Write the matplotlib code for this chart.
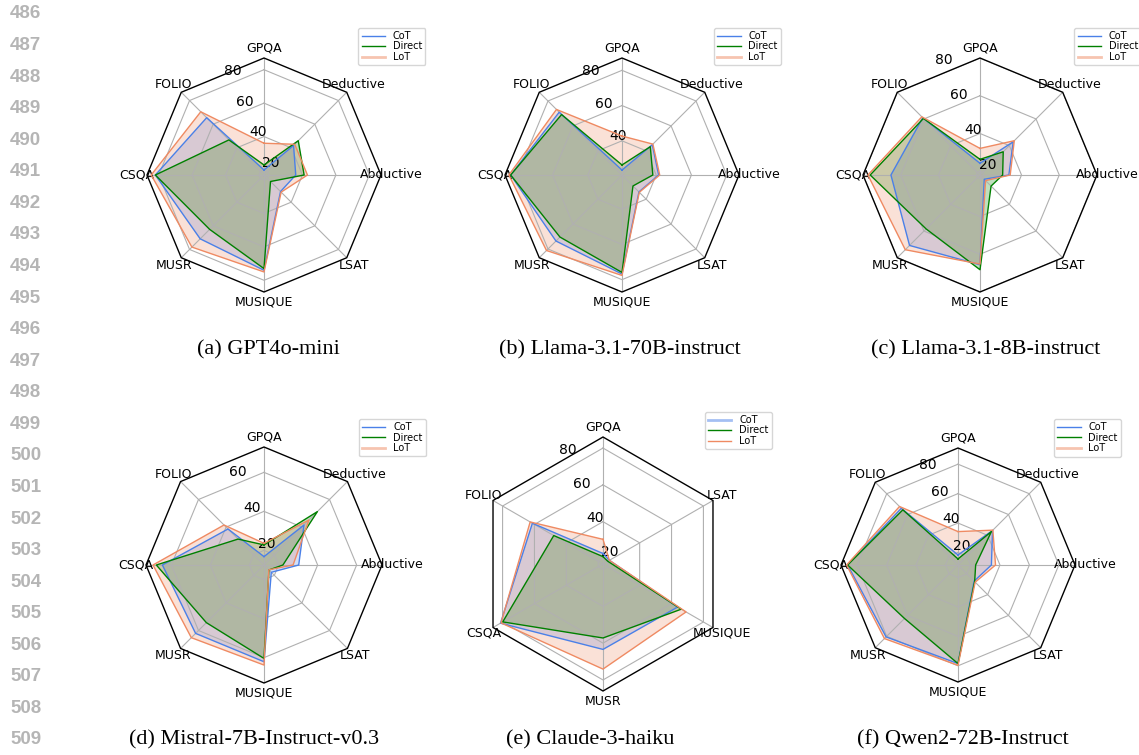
import numpy as np
import matplotlib
matplotlib.use("Agg")
import matplotlib.pyplot as plt
from matplotlib.patches import RegularPolygon
from matplotlib.path import Path
from matplotlib.projections.polar import PolarAxes
from matplotlib.projections import register_projection
from matplotlib.spines import Spine
from matplotlib.transforms import Affine2D
from matplotlib.lines import Line2D

# axes go counter-clockwise starting from the top
cats8 = ["GPQA", "FOLIO", "CSQA", "MUSR", "MUSIQUE", "LSAT", "Abductive", "Deductive"]
cats6 = ["GPQA", "FOLIO", "CSQA", "MUSR", "MUSIQUE", "LSAT"]

# (a) GPT4o-mini
gpt_cot = [20, 65.5, 82, 71, 74, 31, 36, 42]
gpt_direct = [23, 46.7, 82, 63, 73, 22.5, 41, 46]
gpt_lot = [36, 70.5, 84.5, 78, 75, 31.5, 43, 43]

# (b) Llama-3.1-70B-instruct
l70_cot = [23.4, 71, 83.8, 73.6, 76.8, 34.2, 41.4, 44.9]
l70_direct = [26.3, 69.1, 83.8, 70.4, 75.9, 29.4, 38.1, 43.3]
l70_lot = [42.7, 73.2, 84.8, 81.2, 77.6, 34.5, 42, 45.4]

# (c) Llama-3.1-8B-instruct
l8_cot = [24.2, 60.9, 65.2, 70.8, 65.6, 21.2, 33.3, 42.9]
l8_direct = [26.3, 60.4, 76.2, 58.4, 68.2, 26.3, 30, 35.4]
l8_lot = [32.1, 61.6, 77.4, 74, 65.2, 22.2, 34, 43.7]

# (d) Mistral-7B-Instruct-v0.3
mis_cot = [16.8, 38.6, 64.6, 62.1, 62.1, 17.8, 30.3, 41.5]
mis_direct = [22.8, 31.3, 67.7, 54.3, 60.4, 16.1, 22.2, 51.2]
mis_lot = [23.6, 41.5, 69.4, 65.2, 63.8, 16, 27.4, 45.1]

# (e) Claude-3-haiku (6 tasks only)
cl_cot = [22.7, 61.3, 81.3, 63.4, 63.8, 21]
cl_direct = [21, 47.9, 79.9, 57.2, 66.1, 20]
cl_lot = [30.4, 62.7, 81, 74.1, 69.1, 21]

# (f) Qwen2-72B-Instruct
qw_cot = [18.3, 66, 86.5, 80.6, 78.5, 27, 34.2, 44.7]
qw_direct = [15.6, 64.5, 86.5, 62.9, 78.5, 27.5, 23.5, 43.6]
qw_lot = [34.2, 67.7, 87.2, 82.2, 79.7, 28, 37, 45]

captions = ["(a) GPT4o-mini", "(b) Llama-3.1-70B-instruct", "(c) Llama-3.1-8B-instruct",
            "(d) Mistral-7B-Instruct-v0.3", "(e) Claude-3-haiku", "(f) Qwen2-72B-Instruct"]
line_numbers = list(range(486, 510))

C_COT = "#4a80e8"
C_DIR = "green"
C_LOT = "#ef8a62"


def radar_factory(num_vars):
    # polygon frame + polygon grid (matplotlib radar example)
    class RadarTransform(PolarAxes.PolarTransform):
        def transform_path_non_affine(self, path):
            if path._interpolation_steps > 1:
                path = path.interpolated(num_vars)
            return Path(self.transform(path.vertices), path.codes)

    class RadarAxes(PolarAxes):
        name = "radar%d" % num_vars
        PolarTransform = RadarTransform

        def __init__(self, *args, **kwargs):
            super().__init__(*args, **kwargs)
            self.set_theta_zero_location("N")

        def _gen_axes_patch(self):
            return RegularPolygon((0.5, 0.5), num_vars, radius=.5, edgecolor="k")

        def _gen_axes_spines(self):
            spine = Spine(axes=self, spine_type="circle",
                          path=Path.unit_regular_polygon(num_vars))
            spine.set_transform(Affine2D().scale(.5).translate(.5, .5) + self.transAxes)
            return {"polar": spine}

    register_projection(RadarAxes)
    return RadarAxes.name


proj8 = radar_factory(8)
proj6 = radar_factory(6)

W, H = 1139, 755
fig = plt.figure(figsize=(W / 100, H / 100), dpi=100)


def radar(cx, cy, R, proj, labels, cot, direct, lot, lims, faded, leg_anchor):
    ax = fig.add_axes([(cx - R) / W, (H - cy - R) / H, 2 * R / W, 2 * R / H], projection=proj)
    theta = np.linspace(0, 2 * np.pi, len(labels), endpoint=False)
    th = np.append(theta, theta[0])
    for vals, c in [(cot, C_COT), (direct, C_DIR), (lot, C_LOT)]:
        v = np.append(vals, vals[0])
        ax.plot(th, v, color=c, lw=1.0)
        ax.fill(th, v, color=c, alpha=0.25, lw=0)
    ax.set_thetagrids(np.degrees(theta), labels, fontsize=9)
    ax.set_rgrids([20, 40, 60, 80], fontsize=10)
    ax.tick_params(axis="x", pad=-3)
    ax.set_ylim(*lims)
    ax.grid(color="#b0b0b0", lw=0.8)
    ax.spines["polar"].set_color("black")
    ax.spines["polar"].set_linewidth(1.0)

    handles = []
    for name, c in [("CoT", C_COT), ("Direct", C_DIR), ("LoT", C_LOT)]:
        if name == faded:
            handles.append(Line2D([], [], color=c, lw=2, alpha=0.5, label=name))
        else:
            handles.append(Line2D([], [], color=c, lw=1, label=name))
    ax.legend(handles=handles, loc="upper right", bbox_to_anchor=leg_anchor,
              borderaxespad=0, fontsize=7, handlelength=2.4, labelspacing=0.05,
              borderpad=0.35, handletextpad=0.8)
    return ax


radar(264, 175, 117, proj8, cats8, gpt_cot, gpt_direct, gpt_lot, (17, 87), "LoT", (1.19, 1.13))
radar(622, 175, 117, proj8, cats8, l70_cot, l70_direct, l70_lot, (20.6, 87), "LoT", (1.18, 1.13))
radar(980, 175, 117, proj8, cats8, l8_cot, l8_direct, l8_lot, (18, 80), "LoT", (1.19, 1.13))
radar(264, 565, 118, proj8, cats8, mis_cot, mis_direct, mis_lot, (12.5, 73), "LoT", (1.186, 1.12))
radar(603, 564, 127, proj6, cats6, cl_cot, cl_direct, cl_lot, (17, 86), "CoT", (1.165, 1.10))
radar(958, 565, 117, proj8, cats8, qw_cot, qw_direct, qw_lot, (11.5, 91), "LoT", (1.197, 1.124))

# sub-captions
cap_x = [268, 620, 986, 254, 590, 963]
cap_y = [350, 350, 350, 740, 740, 740]
for t, x, y in zip(captions, cap_x, cap_y):
    fig.text(x / W, 1 - y / H, t, ha="center", va="center", fontsize=16,
             family="Liberation Serif")

# line numbers of the page
for i, n in enumerate(line_numbers):
    y = 14 + i * (740 - 14) / (len(line_numbers) - 1)
    fig.text(10 / W, 1 - y / H, str(n), ha="left", va="center", fontsize=13.5,
             family="Liberation Sans", weight="bold", color="#b5b5b5")

fig.savefig("out.png", dpi=100)
